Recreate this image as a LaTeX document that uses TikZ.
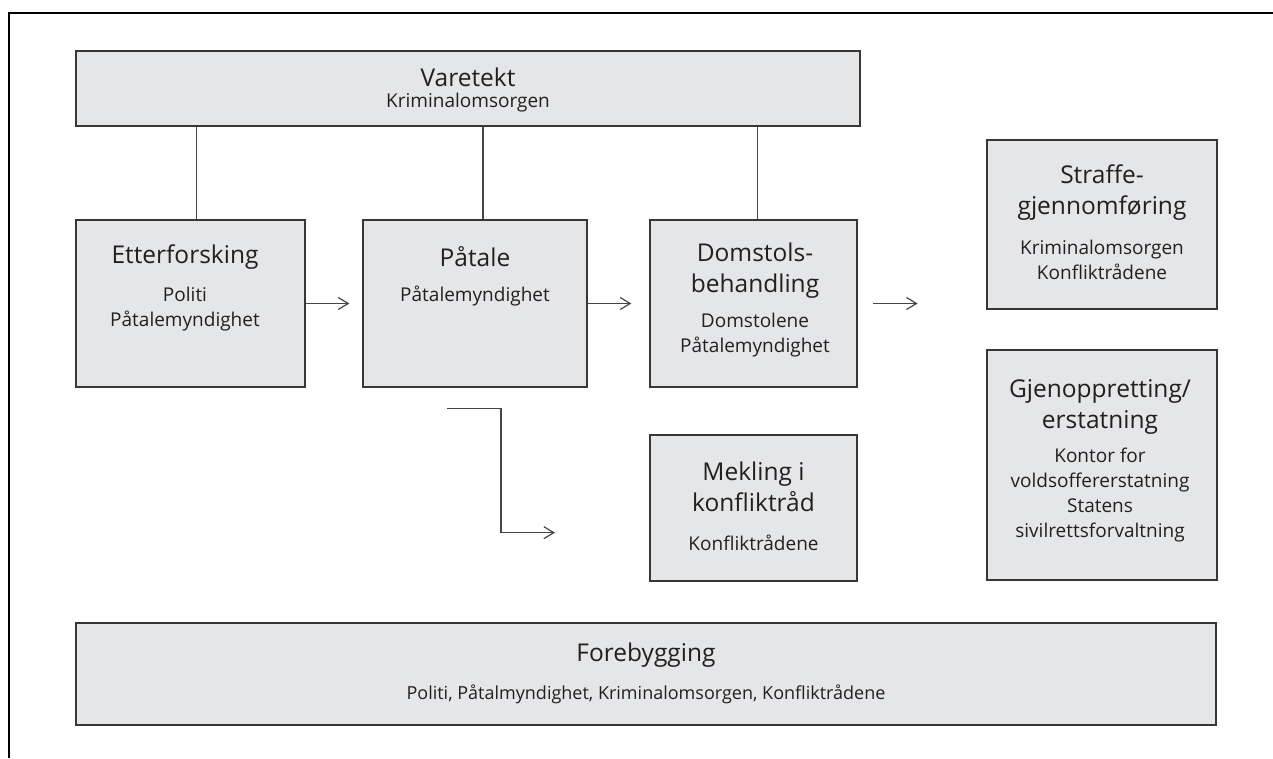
\documentclass[tikz,border=0pt]{standalone}
\usepackage{fontspec}
\setmainfont{Open Sans}
\usetikzlibrary{arrows.meta,calc,positioning}

\definecolor{boxfill}{RGB}{229,230,232}
\definecolor{boxline}{RGB}{55,55,55}
\definecolor{linkline}{RGB}{70,70,70}
\definecolor{txtcol}{RGB}{35,31,32}

\tikzset{
  stage/.style={draw=boxline, fill=boxfill, line width=1.3pt, inner sep=0pt},
  headtxt/.style={font=\fontsize{24.5}{31}\selectfont, align=center, inner sep=0pt, text=txtcol},
  bodytxt/.style={font=\fontsize{19}{25}\selectfont, align=center, inner sep=0pt, text=txtcol},
  link/.style={draw=linkline, line width=1.2pt},
  flow/.style={link, -{Straight Barb[length=10pt,width=12pt]}},
}

\begin{document}
\begin{tikzpicture}[x=1pt, y=-1pt]
    \useasboundingbox (0,0) rectangle (1273,758);
    % outer frame
    \draw[line width=2.3pt] (9,758) -- (9,13) -- (1273,13);

    % boxes
    \node[stage, minimum width=784, minimum height=75](vare)at(468,88.5){};
    \node[stage, minimum width=229, minimum height=167](etter)at(190.5,303.5){};
    \node[stage, minimum width=224, minimum height=167](pata)at(475,303.5){};
    \node[stage, minimum width=207, minimum height=167](doms)at(753.5,303.5){};
    \node[stage, minimum width=207, minimum height=146](mekl)at(753.5,508){};
    \node[stage, minimum width=230, minimum height=169](straf)at(1102,224.5){};
    \node[stage, minimum width=230, minimum height=230](gjen)at(1102,465){};
    \node[stage, minimum width=1140, minimum height=102](fore)at(646,674){};

    % texts
    \node[headtxt](varehead)at(468,77){Varetekt};
    \node[bodytxt](varebody)at(468,103){Kriminalomsorgen};
    \node[headtxt](etterhead)at(185,257){Etterforsking};
    \node[bodytxt](etterbody)at(185,309.5){Politi\\Påtalemyndighet};
    \node[headtxt](patahead)at(475,257){Påtale};
    \node[bodytxt](patabody)at(475,296){Påtalemyndighet};
    \node[headtxt](domshead)at(755,271){Domstols-\\behandling};
    \node[bodytxt](domsbody)at(755,335){Domstolene\\Påtalemyndighet};
    \node[headtxt](meklhead)at(753.5,487){Mekling i\\konfliktråd};
    \node[bodytxt](meklbody)at(753.5,543){Konfliktrådene};
    \node[headtxt](strafhead)at(1102,193){Straffe-\\gjennomføring};
    \node[bodytxt](strafbody)at(1102,259.5){Kriminalomsorgen\\Konfliktrådene};
    \node[headtxt](gjenhead)at(1100,407){Gjenoppretting/\\erstatning};
    \node[bodytxt](gjenbody)at(1100,495.5){Kontor for\\voldsoffererstatning\\Statens\\sivilrettsforvaltning};
    \node[headtxt](forehead)at(646,655){Forebygging};
    \node[bodytxt, font=\fontsize{18}{25}\selectfont](forebody)at(646,694){Politi, Påtalmyndighet, Kriminalomsorgen, Konfliktrådene};

    % links from Varetekt
    \draw[link] ([xshift=6pt]etter.north) -- ([xshift=6pt]etter.north |- vare.south);
    \draw[link] ([xshift=8pt]pata.north) -- ([xshift=8pt]pata.north |- vare.south);
    \draw[link] ([xshift=4pt]doms.north) -- ([xshift=4pt]doms.north |- vare.south);

    % flow arrows
    \coordinate (sendout) at ($(doms.east)+(15,0)$);
    \coordinate (sendend) at ($(sendout)+(45,0)$);
    \coordinate (elbowA) at ($(pata.south)+(-28,21)$);
    \coordinate (elbowB) at ($(elbowA)+(108,124)$);
    \draw[flow] (etter.east) -- ([xshift=-13pt]pata.west);
    \draw[flow] (pata.east) -- ([xshift=-18pt]doms.west);
    \draw[flow] (sendout) -- (sendend);
    \draw[flow] (elbowA) -| ($(elbowA)!0.5!(elbowB)$) |- (elbowB);
\end{tikzpicture}
\end{document}
